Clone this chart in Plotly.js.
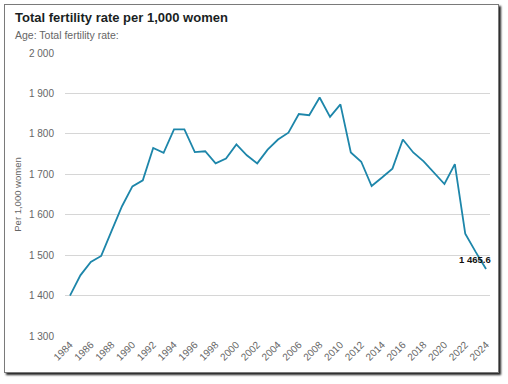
<!DOCTYPE html>
<html>
<head>
<meta charset="utf-8">
<script src="https://cdn.plot.ly/plotly-3.0.1.min.js"></script>
<style>
  html, body { margin: 0; padding: 0; background: #fff; }
  #wrap { position: relative; width: 508px; height: 384px; }
  #chart { position: absolute; left: 0; top: 0; width: 508px; height: 384px; }
  #frame { position: absolute; left: 4px; top: 4px; width: 493px; height: 367px;
           border: 1.5px solid #7a7a7a; box-shadow: 2px 2px 2px #222; pointer-events: none; }
</style>
</head>
<body>
<div id="wrap">
  <div id="chart"></div>
  <div id="frame"></div>
</div>
<script>
const years = [1984,1985,1986,1987,1988,1989,1990,1991,1992,1993,1994,1995,1996,1997,1998,1999,2000,2001,2002,2003,2004,2005,2006,2007,2008,2009,2010,2011,2012,2013,2014,2015,2016,2017,2018,2019,2020,2021,2022,2023,2024];
const fertility = [1400,1450,1483,1498,1560,1621,1670,1685,1765,1753,1811,1811,1755,1757,1727,1739,1774,1747,1727,1761,1786,1803,1849,1846,1890,1842,1873,1754,1731,1671,1692,1714,1786,1754,1732,1703,1676,1725,1553,1508,1465.6];
const tickYears = [1984,1986,1988,1990,1992,1994,1996,1998,2000,2002,2004,2006,2008,2010,2012,2014,2016,2018,2020,2022,2024];
const yTicks = [1300,1400,1500,1600,1700,1800,1900,2000];
const titleText = "Total fertility rate per 1,000 women";
const subtitleText = "Age: Total fertility rate:";
const yTitle = "Per 1,000 women";

function fmt(v) {
  const parts = v.toFixed(1).split(".");
  const intPart = parts[0].replace(/\B(?=(\d{3})+(?!\d))/g, " ");
  return intPart + "." + parts[1];
}
const lastX = years[years.length - 1];
const lastY = fertility[fertility.length - 1];

const trace = {
  x: years, y: fertility, type: "scatter", mode: "lines",
  line: { color: "#1d86aa", width: 1.8 },
  hoverinfo: "skip"
};

const layout = {
  width: 508, height: 384,
  paper_bgcolor: "rgba(0,0,0,0)", plot_bgcolor: "#fff",
  margin: { l: 65, r: 18, t: 53, b: 48 },
  separators: ". ",
  showlegend: false,
  font: { family: "Liberation Sans, Arial, sans-serif", color: "#666" },
  xaxis: {
    range: [1983.52, 2024.38],
    tickvals: tickYears, ticktext: tickYears.map(String),
    tickangle: -45, tickfont: { size: 10, color: "#666" },
    showgrid: false, zeroline: false, showline: false, ticks: ""
  },
  yaxis: {
    range: [1300, 2000],
    tickvals: yTicks, tickformat: ",d",
    tickfont: { size: 10, color: "#666" },
    gridcolor: "#d6d6d6", gridwidth: 1,
    zeroline: false, showline: false, ticks: "",
    ticklabelstandoff: 10,
    title: { text: yTitle, font: { size: 9.5, color: "#666" }, standoff: 5 }
  },
  annotations: [
    { xref: "paper", yref: "paper", x: -0.1212, y: 1.127, xanchor: "left", yanchor: "middle",
      text: "<b>" + titleText + "</b>", showarrow: false,
      font: { size: 13, color: "#1a1f1f" } },
    { xref: "paper", yref: "paper", x: -0.1212, y: 1.0636, xanchor: "left", yanchor: "middle",
      text: subtitleText, showarrow: false,
      font: { size: 10.5, color: "#666" } },
    { x: lastX, y: lastY, xref: "x", yref: "y", xanchor: "right", yanchor: "bottom",
      xshift: 7, yshift: 2,
      text: "<b>" + fmt(lastY) + "</b>", showarrow: false,
      font: { size: 9.5, color: "#111" } }
  ]
};

Plotly.newPlot("chart", [trace], layout, { displayModeBar: false, staticPlot: true });
</script>
</body>
</html>
